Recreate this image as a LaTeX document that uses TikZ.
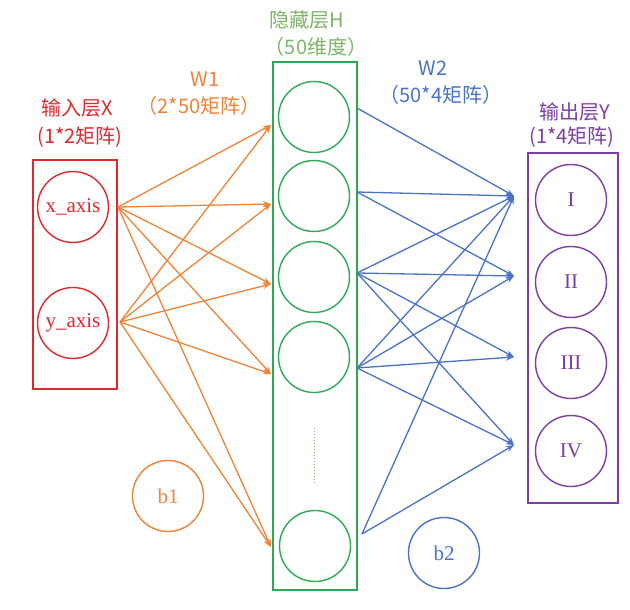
\documentclass[tikz,border=0pt]{standalone}
\usepackage{fontspec}
\setmainfont{Liberation Serif}
\newfontfamily\cjk{Noto Sans CJK SC}
\usetikzlibrary{arrows.meta}
\definecolor{cred}{HTML}{E0282E}
\definecolor{corange}{HTML}{EF8338}
\definecolor{cgreen}{HTML}{2DAA55}
\definecolor{clgreen}{HTML}{7DB46A}
\definecolor{cblue}{HTML}{4A72C6}
\definecolor{cpurple}{HTML}{7B3FA2}
\begin{document}
\begin{tikzpicture}[x=1pt,y=-1pt,
  neuron/.style={circle,draw,line width=1.4pt,minimum size=71pt,inner sep=0pt,font=\fontsize{21}{21}\selectfont},
  layerbox/.style={draw,line width=1.6pt,minimum width=84pt,inner sep=0pt},
  lab/.style={font=\cjk\fontsize{20}{22}\selectfont,inner sep=0pt},
  arr/.style={line width=1.3pt,-{Stealth[length=8pt,width=6pt]}},
]
\useasboundingbox (0,0) rectangle (630,610);
% boxes
\node[layerbox,cred,minimum height=229pt] (bx) at (75,274.5) {};
\node[layerbox,cgreen,minimum height=528pt] (bh) at (315,326) {};
\node[layerbox,cpurple,minimum height=350pt,minimum width=90pt] (by) at (573,328) {};
% input neurons
\node[neuron,cred] (x1) at (73,207) {x\_axis};
\node[neuron,cred] (x2) at (73,323) {y\_axis};
% hidden neurons
\node[neuron,cgreen] (h1) at (314,117) {};
\node[neuron,cgreen] (h2) at (314,196) {};
\node[neuron,cgreen] (h3) at (314,277) {};
\node[neuron,cgreen] (h4) at (314,357) {};
\node[neuron,cgreen] (h5) at (315,546) {};
\coordinate (d1) at (314,428);
\coordinate (d2) at (314,483);
\draw[clgreen,line width=1pt,dash pattern=on 1pt off 2pt] (d1) -- (d2);
% output neurons
\node[neuron,cpurple] (y1) at (571,200) {I};
\node[neuron,cpurple] (y2) at (571,282) {II};
\node[neuron,cpurple] (y3) at (571,363) {III};
\node[neuron,cpurple] (y4) at (571,451) {IV};
% biases
\node[neuron,corange] (b1) at (168,496) {b1};
\node[neuron,cblue] (b2) at (444,553) {b2};
% labels
\node[lab,cred] (lx1) at (77,108) {输入层X};
\node[lab,cred] (lx2) at (80,137) {(1*2矩阵)};
\node[lab,corange] (lw1a) at (205,79) {W1};
\node[lab,corange] (lw1b) at (199,106) {（2*50矩阵）};
\node[lab,clgreen] (lh1) at (307,20) {隐藏层H};
\node[lab,clgreen] (lh2) at (316,47) {（50维度）};
\node[lab,cblue] (lw2a) at (433,68) {W2};
\node[lab,cblue] (lw2b) at (441,95) {（50*4矩阵）};
\node[lab,cpurple] (ly1) at (575,112) {输出层Y};
\node[lab,cpurple] (ly2) at (572,137) {(1*4矩阵)};
% anchor coordinates
\coordinate (sx1) at (118,207);
\coordinate (sx2) at (120,322);
\coordinate (t1) at (271,125);
\coordinate (t2) at (271,204);
\coordinate (t3) at (271,284);
\coordinate (t4) at (271,374);
\coordinate (t5) at (271,547);
\coordinate (s1) at (357,108);
\coordinate (s2) at (357,192);
\coordinate (s3) at (357,273);
\coordinate (s4) at (357,368);
\coordinate (s5) at (362,534);
\coordinate (u1) at (514,196);
\coordinate (u2) at (514,276);
\coordinate (u3) at (514,357);
\coordinate (u4) at (514,445);
% W1 arrows
\foreach \s in {sx1,sx2}
  \foreach \t in {t1,t2,t3,t4,t5}
    \draw[arr,corange] (\s) -- (\t);
% W2 arrows
\draw[arr,cblue] (s1) -- (u1);
\draw[arr,cblue] (s2) -- (u1);
\draw[arr,cblue] (s2) -- (u2);
\foreach \t in {u1,u2,u3,u4} \draw[arr,cblue] (s3) -- (\t);
\foreach \t in {u1,u2,u3,u4} \draw[arr,cblue] (s4) -- (\t);
\draw[arr,cblue] (s5) -- (u1);
\draw[arr,cblue] (s5) -- (u4);
\end{tikzpicture}
\end{document}
